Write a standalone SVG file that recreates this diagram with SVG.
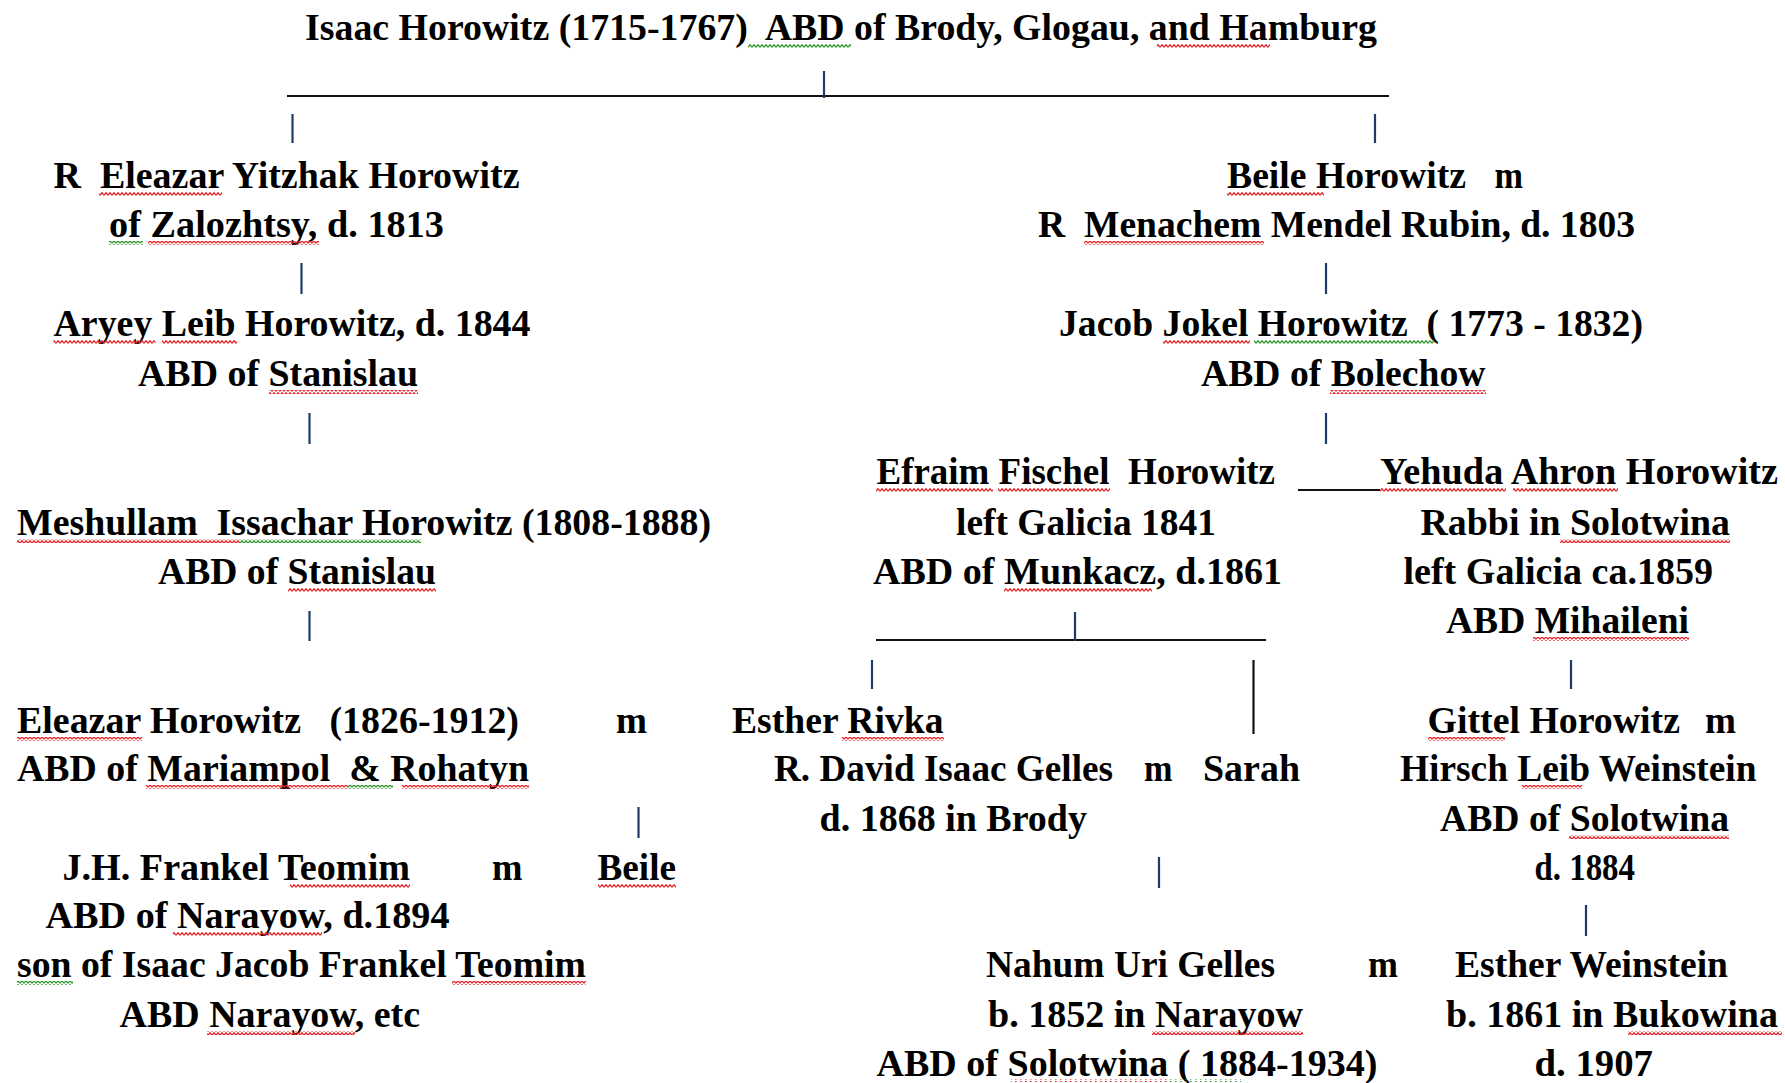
<svg xmlns="http://www.w3.org/2000/svg" width="1785" height="1083" viewBox="0 0 1785 1083">
<style>
.t{font-family:"Liberation Serif","Times New Roman",serif;font-weight:bold;font-size:37px;fill:#000;white-space:pre}
.ln{stroke:#111;stroke-width:2.2;fill:none}
.tk{stroke:#1d3b66;stroke-width:2.2;fill:none}
.wr{fill:url(#pr)}
.wg{fill:url(#pg)}
.dr{fill:url(#dr)}
.dg{fill:url(#dg)}
</style>
<defs>
<pattern id="pr" width="4" height="4" patternUnits="userSpaceOnUse"><path d="M0,3.3 L2,0.7 L4,3.3" stroke="#e8232a" stroke-width="1.3" fill="none"/></pattern>
<pattern id="pg" width="4" height="4" patternUnits="userSpaceOnUse"><path d="M0,3.3 L2,0.7 L4,3.3" stroke="#2c9a2c" stroke-width="1.3" fill="none"/></pattern>
<pattern id="dr" width="5" height="3" patternUnits="userSpaceOnUse"><rect x="0" y="1" width="1.6" height="1.6" fill="#e8232a"/></pattern>
<pattern id="dg" width="5" height="3" patternUnits="userSpaceOnUse"><rect x="0" y="1" width="1.6" height="1.6" fill="#2c9a2c"/></pattern>
</defs>
<rect width="1785" height="1083" fill="#fff"/>

<g id="connectors">
<line class="ln" x1="287" y1="96" x2="1389" y2="96"/>
<line class="tk" x1="824" y1="71" x2="824" y2="98"/>
<line class="tk" x1="292.5" y1="114" x2="292.5" y2="143"/>
<line class="tk" x1="1375" y1="114" x2="1375" y2="143"/>
<line class="tk" x1="301.5" y1="263" x2="301.5" y2="294"/>
<line class="tk" x1="1326" y1="263" x2="1326" y2="294"/>
<line class="tk" x1="309.5" y1="413" x2="309.5" y2="444"/>
<line class="tk" x1="1326" y1="413" x2="1326" y2="444"/>
<line class="ln" x1="1298" y1="490" x2="1380" y2="490"/>
<line class="tk" x1="309.5" y1="611" x2="309.5" y2="641"/>
<line class="ln" x1="876" y1="640" x2="1266" y2="640"/>
<line class="tk" x1="1075" y1="612" x2="1075" y2="641"/>
<line class="tk" x1="872" y1="660" x2="872" y2="689"/>
<line class="ln" x1="1253.5" y1="660" x2="1253.5" y2="734"/>
<line class="tk" x1="1571" y1="660" x2="1571" y2="689"/>
<line class="tk" x1="638.5" y1="807" x2="638.5" y2="838"/>
<line class="tk" x1="1159" y1="857" x2="1159" y2="888"/>
<line class="tk" x1="1586" y1="905" x2="1586" y2="936"/>
</g>

<g id="isaac">
<text class="t" x="305" y="40" textLength="1072" lengthAdjust="spacingAndGlyphs">Isaac Horowitz (1715-1767)  ABD of Brody, Glogau, and Hamburg</text>
<rect class="wg" x="748" y="44" width="103" height="4"/>
<rect class="wr" x="1157" y="44" width="113" height="4"/>
</g>

<g id="eleazar-yitzhak">
<text class="t" x="53.5" y="188" textLength="466" lengthAdjust="spacingAndGlyphs">R  Eleazar Yitzhak Horowitz</text>
<text class="t" x="109" y="237" textLength="335" lengthAdjust="spacingAndGlyphs">of Zalozhtsy, d. 1813</text>
<rect class="wr" x="99" y="192" width="123" height="4"/>
<rect class="wg" x="109" y="241" width="34" height="4"/>
<rect class="wr" x="148" y="241" width="171" height="4"/>
</g>

<g id="aryey-leib">
<text class="t" x="53.5" y="336" textLength="477" lengthAdjust="spacingAndGlyphs">Aryey Leib Horowitz, d. 1844</text>
<text class="t" x="138" y="386" textLength="280" lengthAdjust="spacingAndGlyphs">ABD of Stanislau</text>
<rect class="wr" x="53.5" y="340" width="102" height="4"/>
<rect class="wr" x="162" y="340" width="75" height="4"/>
<rect class="wr" x="269" y="390" width="149" height="4"/>
</g>

<g id="meshullam">
<text class="t" x="17" y="535" textLength="694" lengthAdjust="spacingAndGlyphs">Meshullam  Issachar Horowitz (1808-1888)</text>
<text class="t" x="158" y="584" textLength="278" lengthAdjust="spacingAndGlyphs">ABD of Stanislau</text>
<rect class="wr" x="17" y="539" width="222" height="4"/>
<rect class="wg" x="239" y="539" width="182" height="4"/>
<rect class="wr" x="288" y="588" width="148" height="4"/>
</g>

<g id="eleazar-horowitz">
<text class="t" x="17" y="733" textLength="502" lengthAdjust="spacingAndGlyphs">Eleazar Horowitz   (1826-1912)</text>
<text class="t" x="616" y="733" textLength="31" lengthAdjust="spacingAndGlyphs">m</text>
<text class="t" x="17" y="781" textLength="512" lengthAdjust="spacingAndGlyphs">ABD of Mariampol  &amp; Rohatyn</text>
<rect class="wr" x="17" y="737" width="125" height="4"/>
<rect class="wr" x="146" y="785" width="201" height="4"/>
<rect class="wg" x="347" y="785" width="46" height="4"/>
<rect class="wr" x="402" y="785" width="127" height="4"/>
</g>

<g id="frankel-teomim">
<text class="t" x="62.5" y="880" textLength="347.5" lengthAdjust="spacingAndGlyphs">J.H. Frankel Teomim</text>
<text class="t" x="492" y="880" textLength="30.5" lengthAdjust="spacingAndGlyphs">m</text>
<text class="t" x="45.5" y="928" textLength="404" lengthAdjust="spacingAndGlyphs">ABD of Narayow, d.1894</text>
<text class="t" x="17" y="977" textLength="569" lengthAdjust="spacingAndGlyphs">son of Isaac Jacob Frankel Teomim</text>
<text class="t" x="119.5" y="1027" textLength="300.5" lengthAdjust="spacingAndGlyphs">ABD Narayow, etc</text>
<rect class="wr" x="290" y="884" width="120" height="4"/>
<rect class="wr" x="173" y="932" width="149" height="4"/>
<rect class="wg" x="17" y="981" width="56" height="4"/>
<rect class="wr" x="452" y="981" width="134" height="4"/>
<rect class="wr" x="207" y="1031" width="148" height="4"/>
</g>

<g id="beile-frankel">
<text class="t" x="597.5" y="880" textLength="78.5" lengthAdjust="spacingAndGlyphs">Beile</text>
<rect class="wr" x="598" y="884" width="78" height="4"/>
</g>

<g id="beile-rubin">
<text class="t" x="1227" y="188" textLength="239" lengthAdjust="spacingAndGlyphs">Beile Horowitz</text>
<text class="t" x="1494.5" y="188" textLength="28.5" lengthAdjust="spacingAndGlyphs">m</text>
<text class="t" x="1038" y="237" textLength="597" lengthAdjust="spacingAndGlyphs">R  Menachem Mendel Rubin, d. 1803</text>
<rect class="wr" x="1227" y="192" width="97" height="4"/>
<rect class="wr" x="1084" y="241" width="180" height="4"/>
</g>

<g id="jacob-jokel">
<text class="t" x="1059" y="336" textLength="584" lengthAdjust="spacingAndGlyphs">Jacob Jokel Horowitz  ( 1773 - 1832)</text>
<text class="t" x="1201" y="386" textLength="284.5" lengthAdjust="spacingAndGlyphs">ABD of Bolechow</text>
<rect class="wr" x="1163" y="340" width="87" height="4"/>
<rect class="wg" x="1254" y="340" width="180" height="4"/>
<rect class="wr" x="1330" y="390" width="156" height="4"/>
</g>

<g id="efraim-fischel">
<text class="t" x="876.5" y="484" textLength="398.5" lengthAdjust="spacingAndGlyphs">Efraim Fischel  Horowitz</text>
<text class="t" x="956" y="535" textLength="260" lengthAdjust="spacingAndGlyphs">left Galicia 1841</text>
<text class="t" x="873" y="584" textLength="409" lengthAdjust="spacingAndGlyphs">ABD of Munkacz, d.1861</text>
<rect class="wr" x="876" y="488" width="117" height="4"/>
<rect class="wr" x="998" y="488" width="112" height="4"/>
<rect class="wr" x="1004" y="588" width="148" height="4"/>
</g>

<g id="yehuda-ahron">
<text class="t" x="1380" y="484" textLength="398" lengthAdjust="spacingAndGlyphs">Yehuda Ahron Horowitz</text>
<text class="t" x="1420.5" y="535" textLength="309.5" lengthAdjust="spacingAndGlyphs">Rabbi in Solotwina</text>
<text class="t" x="1403.5" y="584" textLength="309.5" lengthAdjust="spacingAndGlyphs">left Galicia ca.1859</text>
<text class="t" x="1446" y="633" textLength="243" lengthAdjust="spacingAndGlyphs">ABD Mihaileni</text>
<rect class="wr" x="1380" y="488" width="126" height="4"/>
<rect class="wr" x="1513" y="488" width="105" height="4"/>
<rect class="wr" x="1560" y="539" width="170" height="4"/>
<rect class="wr" x="1533" y="637" width="156" height="4"/>
</g>

<g id="esther-rivka">
<text class="t" x="732" y="733" textLength="211.5" lengthAdjust="spacingAndGlyphs">Esther Rivka</text>
<rect class="wr" x="842" y="737" width="102" height="4"/>
</g>

<g id="david-isaac-gelles">
<text class="t" x="774" y="781" textLength="339" lengthAdjust="spacingAndGlyphs">R. David Isaac Gelles</text>
<text class="t" x="1144" y="781" textLength="28.5" lengthAdjust="spacingAndGlyphs">m</text>
<text class="t" x="819.5" y="831" textLength="267.5" lengthAdjust="spacingAndGlyphs">d. 1868 in Brody</text>
</g>

<g id="sarah">
<text class="t" x="1203" y="781" textLength="97" lengthAdjust="spacingAndGlyphs">Sarah</text>
</g>

<g id="gittel">
<text class="t" x="1427.5" y="733" textLength="252.5" lengthAdjust="spacingAndGlyphs">Gittel Horowitz</text>
<text class="t" x="1705" y="733" textLength="31" lengthAdjust="spacingAndGlyphs">m</text>
<rect class="wr" x="1428" y="737" width="77" height="4"/>
</g>

<g id="hirsch-leib">
<text class="t" x="1400" y="781" textLength="356.5" lengthAdjust="spacingAndGlyphs">Hirsch Leib Weinstein</text>
<text class="t" x="1440" y="831" textLength="289" lengthAdjust="spacingAndGlyphs">ABD of Solotwina</text>
<text class="t" x="1534.5" y="880" textLength="100.5" lengthAdjust="spacingAndGlyphs">d. 1884</text>
<rect class="wr" x="1522" y="785" width="60" height="4"/>
<rect class="wr" x="1569" y="835" width="160" height="4"/>
</g>

<g id="nahum-uri">
<text class="t" x="986" y="977" textLength="289" lengthAdjust="spacingAndGlyphs">Nahum Uri Gelles</text>
<text class="t" x="1368" y="977" textLength="30" lengthAdjust="spacingAndGlyphs">m</text>
<text class="t" x="988" y="1027" textLength="315" lengthAdjust="spacingAndGlyphs">b. 1852 in Narayow</text>
<text class="t" x="876.5" y="1076" textLength="501" lengthAdjust="spacingAndGlyphs">ABD of Solotwina ( 1884-1934)</text>
<rect class="wr" x="1152" y="1031" width="151" height="4"/>
<rect class="dr" x="1011" y="1079" width="156" height="3"/>
<rect class="dg" x="1167" y="1079" width="74" height="3"/>
</g>

<g id="esther-weinstein">
<text class="t" x="1455" y="977" textLength="273" lengthAdjust="spacingAndGlyphs">Esther Weinstein</text>
<text class="t" x="1446" y="1027" textLength="332" lengthAdjust="spacingAndGlyphs">b. 1861 in Bukowina</text>
<text class="t" x="1534.5" y="1076" textLength="118.5" lengthAdjust="spacingAndGlyphs">d. 1907</text>
<rect class="wr" x="1628" y="1031" width="154" height="4"/>
</g>
</svg>
